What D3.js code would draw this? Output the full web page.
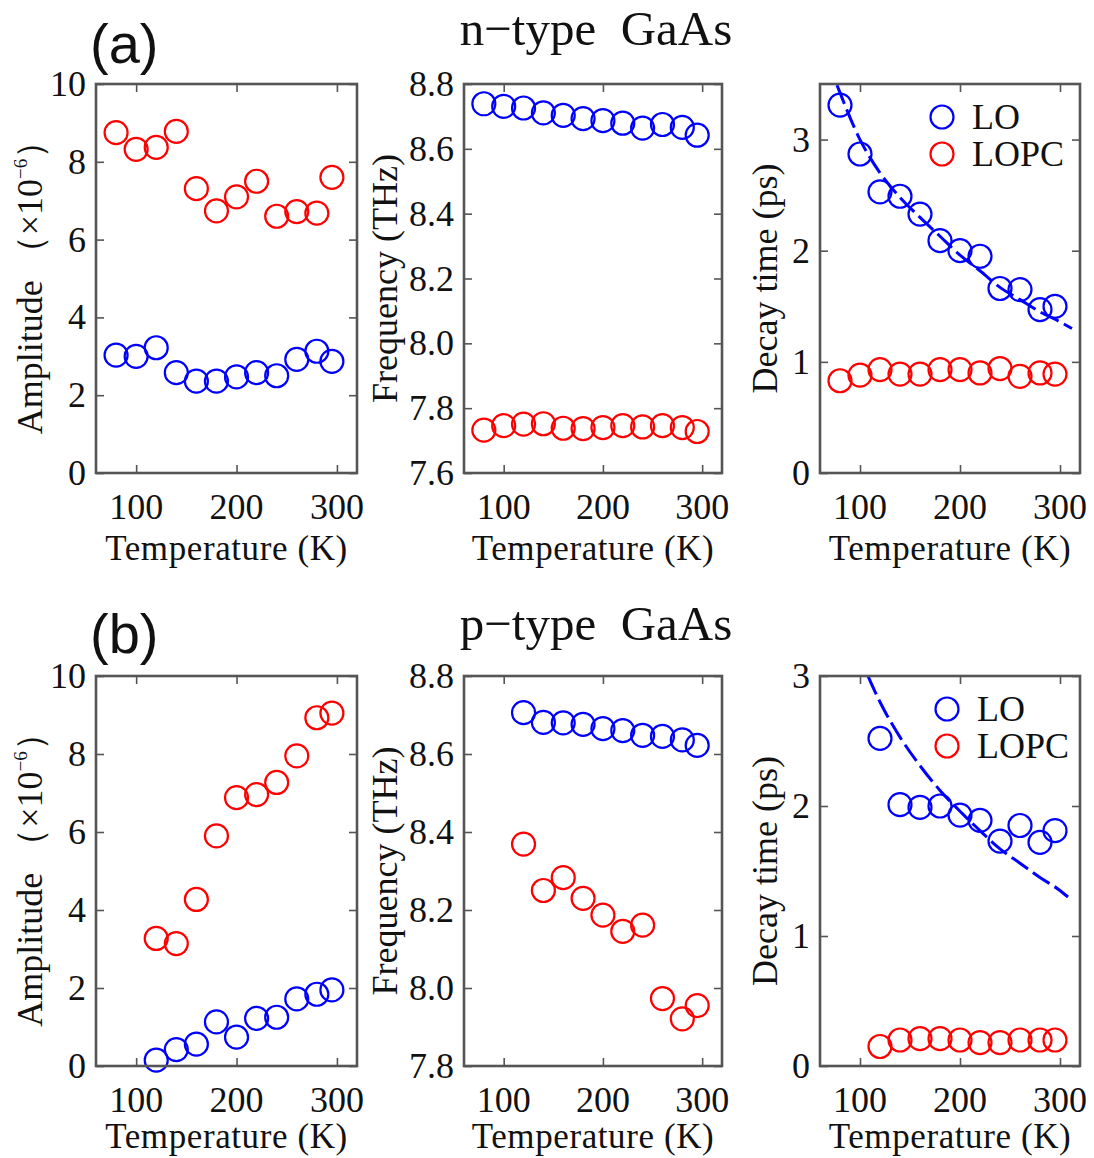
<!DOCTYPE html>
<html>
<head>
<meta charset="utf-8">
<script src="https://cdn.jsdelivr.net/npm/d3@7"></script>
<style>
  body { margin: 0; background: #fff; }
  svg text { font-family: "Liberation Serif", "Times New Roman", serif; fill: #111; }
</style>
</head>
<body>
<div id="chart"></div>
<script>
// temperatures (K)
const tempN = [80, 100, 120, 140, 160, 180, 200, 220, 240, 260, 280, 295];
const tempP = [120, 140, 160, 180, 200, 220, 240, 260, 280, 295];

// n-type GaAs
const ampLO_n = [3.03, 3.0, 3.22, 2.58, 2.36, 2.36, 2.47, 2.58, 2.5, 2.92, 3.13, 2.87];
const ampLOPC_n = [8.75, 8.32, 8.37, 8.78, 7.31, 6.74, 7.1, 7.5, 6.6, 6.72, 6.68, 7.6];
const freqLO_n = [8.739, 8.731, 8.726, 8.711, 8.703, 8.693, 8.687, 8.679, 8.664, 8.675, 8.666, 8.642];
const freqLOPC_n = [7.732, 7.746, 7.751, 7.752, 7.738, 7.737, 7.740, 7.746, 7.742, 7.746, 7.740, 7.728];
const decayLO_n = [3.31, 2.87, 2.53, 2.49, 2.33, 2.09, 2.0, 1.95, 1.66, 1.65, 1.47, 1.5];
const decayLOPC_n = [0.83, 0.88, 0.93, 0.89, 0.89, 0.93, 0.93, 0.9, 0.94, 0.87, 0.9, 0.89];
const fitT_n = [77, 100, 120, 140, 160, 180, 200, 220, 240, 260, 280, 300, 312];
const fitTau_n = [3.49, 3.0, 2.7, 2.48, 2.3, 2.13, 1.96, 1.82, 1.67, 1.56, 1.45, 1.36, 1.3];

// p-type GaAs
const ampLO_p = [0.15, 0.42, 0.56, 1.13, 0.74, 1.22, 1.25, 1.72, 1.84, 1.95];
const ampLOPC_p = [3.27, 3.14, 4.27, 5.9, 6.88, 6.96, 7.27, 7.95, 8.93, 9.05];
const freqLO_p = [8.706, 8.681, 8.680, 8.676, 8.665, 8.660, 8.648, 8.645, 8.636, 8.622];
const freqLOPC_p = [8.369, 8.250, 8.283, 8.230, 8.187, 8.145, 8.161, 7.973, 7.921, 7.955];
const decayLO_p = [2.52, 2.01, 1.99, 2.0, 1.93, 1.89, 1.73, 1.85, 1.72, 1.81];
const decayLOPC_p = [0.15, 0.2, 0.21, 0.21, 0.2, 0.18, 0.18, 0.2, 0.2, 0.2];
const fitT_p = [108, 120, 140, 160, 180, 200, 220, 240, 260, 280, 300, 308];
const fitTau_p = [3.0, 2.8, 2.53, 2.31, 2.12, 1.96, 1.81, 1.67, 1.56, 1.45, 1.35, 1.3];

// tick labels
const xTicks = [100, 200, 300];
const ampTicks = [0, 2, 4, 6, 8, 10];
const freqTicksN = [7.6, 7.8, 8.0, 8.2, 8.4, 8.6, 8.8];
const freqTicksP = [7.8, 8.0, 8.2, 8.4, 8.6, 8.8];
const decayTicksN = [0, 1, 2, 3];
const decayTicksP = [0, 1, 2, 3];

const width = 1094;
const height = 1158;
const blue = '#0000ff';
const red = '#ff0000';

const svg = d3.select('#chart').append('svg').attr('width', width).attr('height', height);

const cols = [
  { x0: 96, x1: 357, titleX: 42 },
  { x0: 464, x1: 722, titleX: 397 },
  { x0: 820, x1: 1080, titleX: 777 },
];
const rows = [
  { y0: 84, y1: 473, xTitle: 560, legendX: 942 },
  { y0: 676, y1: 1066, xTitle: 1148, legendX: 947 },
];

const panels = [
  { row: 0, col: 0, t: tempN, a: ampLO_n, b: ampLOPC_n, domain: [0, 10], ticks: ampTicks, fmt: d3.format('d'), label: 'amp' },
  { row: 0, col: 1, t: tempN, a: freqLO_n, b: freqLOPC_n, domain: [7.6, 8.8], ticks: freqTicksN, fmt: d3.format('.1f'), label: 'Frequency (THz)' },
  { row: 0, col: 2, t: tempN, a: decayLO_n, b: decayLOPC_n, domain: [0, 3.5], ticks: decayTicksN, fmt: d3.format('d'), label: 'Decay time (ps)', fitT: fitT_n, fitY: fitTau_n },
  { row: 1, col: 0, t: tempP, a: ampLO_p, b: ampLOPC_p, domain: [0, 10], ticks: ampTicks, fmt: d3.format('d'), label: 'amp' },
  { row: 1, col: 1, t: tempP, a: freqLO_p, b: freqLOPC_p, domain: [7.8, 8.8], ticks: freqTicksP, fmt: d3.format('.1f'), label: 'Frequency (THz)' },
  { row: 1, col: 2, t: tempP, a: decayLO_p, b: decayLOPC_p, domain: [0, 3], ticks: decayTicksP, fmt: d3.format('d'), label: 'Decay time (ps)', fitT: fitT_p, fitY: fitTau_p },
];

panels.forEach((p) => {
  const c = cols[p.col];
  const r = rows[p.row];
  const x = d3.scaleLinear().domain([60, 320]).range([c.x0, c.x1]);
  const y = d3.scaleLinear().domain(p.domain).range([r.y1, r.y0]);
  const g = svg.append('g');
  const tl = 8;

  // inward ticks on all four sides
  const axes = [
    d3.axisBottom(x).tickValues(xTicks).tickSize(-tl).tickFormat(''),
    d3.axisTop(x).tickValues(xTicks).tickSize(-tl).tickFormat(''),
    d3.axisLeft(y).tickValues(p.ticks).tickSize(-tl).tickFormat(''),
    d3.axisRight(y).tickValues(p.ticks).tickSize(-tl).tickFormat(''),
  ];
  const pos = [`translate(0,${r.y1})`, `translate(0,${r.y0})`, `translate(${c.x0},0)`, `translate(${c.x1},0)`];
  axes.forEach((ax, i) => {
    const a = g.append('g').attr('transform', pos[i]).call(ax);
    a.select('.domain').remove();
    a.selectAll('line').attr('stroke', '#555').attr('stroke-width', 1.6);
  });

  // data
  const line = d3.line().x((d) => x(d[0])).y((d) => y(d[1])).curve(d3.curveMonotoneX);
  if (p.fitT) {
    g.append('path')
      .datum(p.fitT.map((t, i) => [t, p.fitY[i]]))
      .attr('d', line)
      .attr('fill', 'none')
      .attr('stroke', blue)
      .attr('stroke-width', 3)
      .attr('stroke-dasharray', '20,6');
  }
  [[p.a, blue], [p.b, red]].forEach(([vals, col]) => {
    g.selectAll(null)
      .data(vals)
      .enter()
      .append('circle')
      .attr('cx', (d, i) => x(p.t[i]))
      .attr('cy', (d) => y(d))
      .attr('r', 11.5)
      .attr('fill', 'none')
      .attr('stroke', col)
      .attr('stroke-width', 2.2);
  });

  // frame
  g.append('rect')
    .attr('x', c.x0).attr('y', r.y0)
    .attr('width', c.x1 - c.x0).attr('height', r.y1 - r.y0)
    .attr('fill', 'none').attr('stroke', '#555').attr('stroke-width', 2.6);

  // tick labels
  g.selectAll(null).data(xTicks).enter().append('text')
    .attr('x', (d) => x(d)).attr('y', r.y1 + 46)
    .attr('text-anchor', 'middle').attr('font-size', 36)
    .text((d) => d);
  g.selectAll(null).data(p.ticks).enter().append('text')
    .attr('x', c.x0 - 10).attr('y', (d) => y(d) + 12)
    .attr('text-anchor', 'end').attr('font-size', 36)
    .text((d) => p.fmt(d));

  // axis titles
  g.append('text')
    .attr('x', (c.x0 + c.x1) / 2).attr('y', r.xTitle)
    .attr('text-anchor', 'middle').attr('font-size', 35)
    .attr('letter-spacing', 0.6)
    .text('Temperature (K)');

  const cy = (r.y0 + r.y1) / 2;
  const yt = g.append('text')
    .attr('transform', `translate(${c.titleX},${cy}) rotate(-90)`)
    .attr('text-anchor', 'middle').attr('font-size', 36);
  if (p.label === 'amp') {
    yt.append('tspan').text('Amplitude （×10');
    yt.append('tspan').attr('font-size', 19).attr('dy', -15).text('−6');
    yt.append('tspan').attr('dy', 15).text('）');
  } else {
    yt.text(p.label);
  }

  // legend
  if (p.col === 2) {
    const lx = r.legendX;
    const ly = r.y0 + 33;
    [['LO', blue], ['LOPC', red]].forEach(([name, col], i) => {
      g.append('circle')
        .attr('cx', lx).attr('cy', ly + i * 37).attr('r', 11.5)
        .attr('fill', 'none').attr('stroke', col).attr('stroke-width', 2.2);
      g.append('text')
        .attr('x', lx + 30).attr('y', ly + i * 37 + 12)
        .attr('font-size', 36).text(name);
    });
  }
});

// panel letters and titles
[['(a)', 63, 'n−type  GaAs', 45], ['(b)', 653, 'p−type  GaAs', 640]].forEach(([lab, ly, title, ty]) => {
  svg.append('text')
    .attr('x', 90).attr('y', ly)
    .style('font-family', '"Liberation Sans", Arial, sans-serif')
    .attr('font-size', 56).text(lab);
  svg.append('text')
    .attr('x', 596).attr('y', ty)
    .attr('text-anchor', 'middle').attr('font-size', 49)
    .style('white-space', 'pre')
    .text(title);
});
</script>
</body>
</html>
